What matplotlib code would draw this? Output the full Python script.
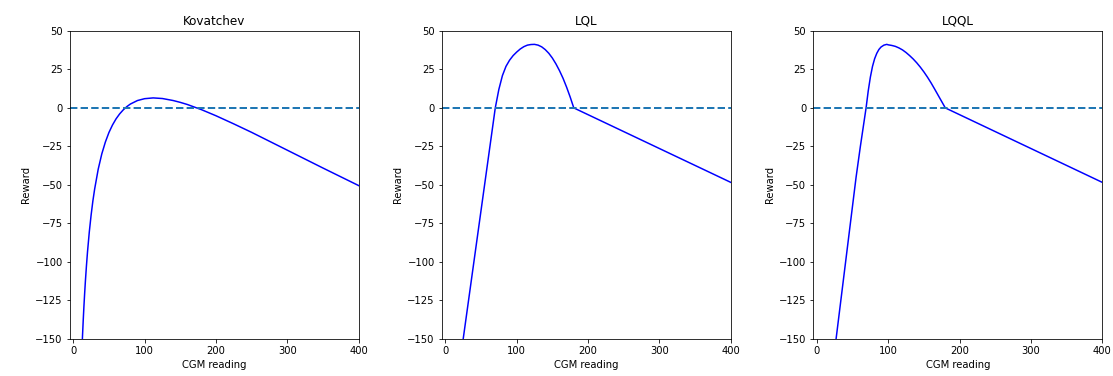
import matplotlib
matplotlib.use('Agg')
import matplotlib.pyplot as plt

# ── DADOS ─────────────────────────────────────────────────────────────────────

titulos = ['Kovatchev', 'LQL', 'LQQL']

kov_x = [12, 12.5, 13, 14, 15, 16, 17, 18.5, 20, 22.5, 25, 27.5, 30, 35, 40,
         45, 50, 55, 60, 65, 70, 75, 80, 90, 100, 112, 125, 140, 150, 160,
         170, 180, 200, 225, 250, 300, 350, 400]
kov_y = [-159.3, -153.5, -148.0, -137.9, -128.7, -120.4, -112.8, -102.6,
         -93.5, -80.6, -69.8, -60.5, -52.7, -39.8, -29.9, -22.2, -16.0, -11.1,
         -7.1, -3.9, -1.3, 0.8, 2.5, 4.8, 6.0, 6.5, 6.1, 4.8, 3.6, 2.2, 0.5,
         -1.2, -5.1, -10.4, -15.9, -27.5, -39.1, -50.5]

lql_x = [20, 70, 75, 80, 85, 90, 95, 100, 105, 110, 115, 120, 125, 130, 135,
         140, 145, 150, 155, 160, 165, 170, 175, 180, 400]
lql_y = [-167, 0, 12, 21, 27, 31, 34, 36.3, 38.3, 39.8, 40.8, 41.2, 41.3,
         40.8, 39.7, 37.9, 35.5, 32.4, 28.6, 24.2, 19.2, 13.4, 7.0, 0, -48.4]

lqql_x = [20, 27, 35, 47, 55, 61, 69, 72, 75, 78, 81, 84, 87, 90, 94, 98, 100,
          105, 110, 115, 120, 125, 130, 135, 140, 145, 150, 155, 160, 165, 170,
          175, 180, 400]
lqql_y = [-174, -150, -120, -75, -45, -25, 0, 11, 20, 27, 32, 35.5, 38, 39.6,
          40.8, 41.3, 41.0, 40.6, 40, 39, 37.7, 36, 34, 31.8, 29.3, 26.5, 23.4,
          20, 16.3, 12.3, 8.2, 4.1, 0, -48.4]

curvas = [(kov_x, kov_y), (lql_x, lql_y), (lqql_x, lqql_y)]

xticks = [0, 100, 200, 300, 400]
yticks = [-150, -125, -100, -75, -50, -25, 0, 25, 50]

# ── PLOTS ─────────────────────────────────────────────────────────────────────

fig = plt.figure(figsize=(1113 / 72, 376 / 72), dpi=72)
lefts = [0.0626, 0.3969, 0.7307]

for left, titulo, (xs, ys) in zip(lefts, titulos, curvas):
    ax = fig.add_axes([left, 0.0992, 0.2597, 0.8184])
    ax.plot(xs, ys, color='blue', lw=1.5)
    ax.axhline(0, color='C0', ls='--', lw=2)
    ax.set_xlim(-5, 400)
    ax.set_ylim(-150, 50)
    ax.set_xticks(xticks)
    ax.set_yticks(yticks)
    ax.set_title(titulo)
    ax.set_xlabel('CGM reading')
    ax.set_ylabel('Reward')

plt.savefig('out.png', dpi=72)
